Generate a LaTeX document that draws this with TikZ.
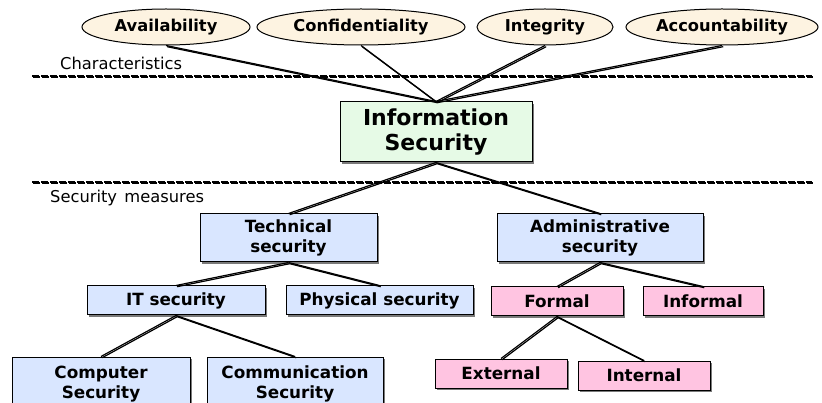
\documentclass[tikz,border=0pt]{standalone}
\usepackage{fontspec}
\setmainfont{DejaVu Sans}
\usetikzlibrary{shapes.geometric,shadows}
\definecolor{trait}{HTML}{FDF3E1}
\definecolor{core}{HTML}{E6FAE6}
\definecolor{measure}{HTML}{D9E6FF}
\definecolor{admin}{HTML}{FFC4E1}
\definecolor{shade}{HTML}{7A7A7A}
\tikzset{
  trait/.style={ellipse, draw=black, line width=1pt, fill=trait, inner sep=0pt,
    font=\bfseries\fontsize{16.3}{19}\selectfont},
  boxbase/.style={rectangle, draw=black, line width=1pt, inner sep=0pt, align=center,
    font=\bfseries\fontsize{16.8}{20}\selectfont,
    drop shadow={shadow xshift=2pt, shadow yshift=-2pt, fill=shade, opacity=1}},
  corebox/.style={boxbase, fill=core, font=\bfseries\fontsize{22}{25}\selectfont},
  techbox/.style={boxbase, fill=measure},
  adminbox/.style={boxbase, fill=admin},
  link/.style={line width=1.2pt, black},
  linkshade/.style={line width=1.2pt, shade, transform canvas={xshift=1.2pt, yshift=-1.2pt}},
  divider/.style={line width=2.6pt, dash pattern=on 7pt off 2pt, black},
  dividershade/.style={line width=2.6pt, dash pattern=on 7pt off 2pt, shade,
    transform canvas={xshift=1pt, yshift=-1pt}},
  caption/.style={anchor=west, inner sep=0pt, font=\fontsize{16.3}{19}\selectfont},
}
\begin{document}
\begin{tikzpicture}[x=1pt, y=-1pt]
\useasboundingbox (0,0) rectangle (822,403);
\clip (0,0) rectangle (822,403);

% characteristics of information security
\node[trait, minimum width=168pt, minimum height=36pt] (avail) at (166,27) {Availability};
\node[trait, minimum width=208pt, minimum height=36pt] (conf) at (361,27) {Confidentiality};
\node[trait, minimum width=136pt, minimum height=36pt] (integ) at (545,27) {Integrity};
\node[trait, minimum width=192pt, minimum height=36pt] (account) at (722,27) {Accountability};

% section dividers
\coordinate (d1a) at (32,76);
\coordinate (d1b) at (812,76);
\coordinate (d2a) at (32,182);
\coordinate (d2b) at (812,182);
\draw[dividershade] (d1a) -- (d1b);
\draw[divider] (d1a) -- (d1b);
\draw[dividershade] (d2a) -- (d2b);
\draw[divider] (d2a) -- (d2b);
\node[caption] (charlbl) at (60,63) {Characteristics};
\node[caption] (measlbl) at (50,198) {Security\hspace{0.45em}measures};

% hierarchy of security measures
\node[corebox, minimum width=192pt, minimum height=60pt] (info) at (436,132) {Information\\Security};
\node[techbox, minimum width=177pt, minimum height=48pt] (tech) at (288.5,238) {Technical\\security};
\node[techbox, minimum width=206pt, minimum height=48pt] (adm) at (600,238) {Administrative\\security};
\node[techbox, minimum width=178pt, minimum height=29pt] (it) at (176,300.5) {IT security};
\node[techbox, minimum width=187pt, minimum height=29pt] (phys) at (379.5,300.5) {Physical security};
\node[adminbox, minimum width=132pt, minimum height=29pt] (formal) at (557,301.5) {Formal};
\node[adminbox, minimum width=120pt, minimum height=29pt] (informal) at (703,301.5) {Informal};
\node[techbox, minimum width=178pt, minimum height=54pt] (comp) at (101,384) {Computer\\Security};
\node[techbox, minimum width=176pt, minimum height=54pt] (comm) at (295,384) {Communication\\Security};
\node[adminbox, minimum width=132pt, minimum height=29pt] (ext) at (501,373.5) {External};
\node[adminbox, minimum width=132pt, minimum height=29pt] (int) at (644,375.5) {Internal};

% connectors
\foreach \a/\b in {avail.south/info.north, conf.south/info.north, integ.south/info.north,
    account.south/info.north, info.south/tech.north, info.south/adm.north,
    tech.south/it.north, tech.south/phys.north, adm.south/formal.north,
    adm.south/informal.north, it.south/comp.north, it.south/comm.north,
    formal.south/ext.north, formal.south/int.north}{
  \draw[linkshade] (\a) -- (\b);
  \draw[link] (\a) -- (\b);
}
\end{tikzpicture}
\end{document}
